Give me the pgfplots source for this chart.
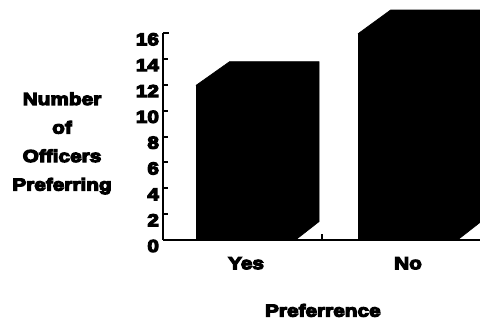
\documentclass[border=0pt]{standalone}
\usepackage{fontspec}
\setmainfont{Liberation Sans}[FakeStretch=1.2]
\usepackage{pgfplots}
\pgfplotsset{compat=1.18}
% heavier strokes for the label type: fill and stroke the glyphs
\newcommand\heavy{\special{pdf:literal direct 2 Tr 0.9 w}}

\begin{document}
\begin{tikzpicture}
\useasboundingbox (0,0) rectangle (360pt,240pt);
\clip (0,0) rectangle (360pt,240pt);
\begin{axis}[
  at={(122.25pt,60pt)}, anchor=south west,
  scale only axis,
  width=237.75pt, height=155pt,
  xmin=0.4877, xmax=2.444,
  ymin=0, ymax=16,
  clip=false,
  unbounded coords=jump,
  axis x line=bottom, axis y line=left,
  axis line style={-, line width=1.6pt},
  font=\fontsize{13}{21.4}\selectfont\bfseries\heavy,
  /pgf/number format/assume math mode=true,
  ytick={0,2,...,16},
  ytick align=inside,
  xtick align=inside,
  y tick style={draw=none},
  major tick length=3pt,
  yticklabel style={anchor=east, yshift=-4.5pt, xshift=0.5pt},
  xtick={1,2},
  xticklabels={Yes,No},
  xtick style={draw=none},
  xticklabel style={anchor=north, yshift=-9.4pt},
  extra x ticks={1.47},
  extra x tick labels={},
  extra x tick style={xtick style={draw=black, line width=1.6pt}, major tick length=4.5pt},
  xlabel={Preferrence},
  every axis x label/.style={at={(axis description cs:0.5,0)}, anchor=north, yshift=-44.5pt, xshift=1pt},
  ylabel={Number\\of\\Officers\\Preferring},
  every axis y label/.style={at={(axis description cs:0,0)}, anchor=center, align=center,
    xshift=-75.75pt, yshift=72.5pt},
]
% short tick marks on the inner side of the y axis
\addplot[black, line width=1.5pt, line cap=butt] coordinates {
  (0.4877,2)  (0.519,2)  (0.5,nan)
  (0.4877,4)  (0.519,4)  (0.5,nan)
  (0.4877,6)  (0.519,6)  (0.5,nan)
  (0.4877,8)  (0.519,8)  (0.5,nan)
  (0.4877,10) (0.519,10) (0.5,nan)
  (0.4877,12) (0.519,12) (0.5,nan)
  (0.4877,14) (0.519,14) (0.5,nan)
  (0.4877,16) (0.522,16)};
% front faces of the bars
\addplot[ybar, bar width=0.61, fill=black, draw=black, line width=0.5pt] coordinates {(1,12) (2,16)};
% top and side faces (oblique depth)
\addplot[fill=black, draw=black, line width=0.5pt] coordinates
  {(0.695,12) (0.898,13.8) (1.451,13.8) (1.451,1.43) (1.305,0) (1.305,12)} -- cycle;
\addplot[fill=black, draw=black, line width=0.5pt] coordinates
  {(1.695,16) (1.892,17.8) (2.451,17.8) (2.451,1.43) (2.305,0) (2.305,16)} -- cycle;
\end{axis}
\end{tikzpicture}
\end{document}
